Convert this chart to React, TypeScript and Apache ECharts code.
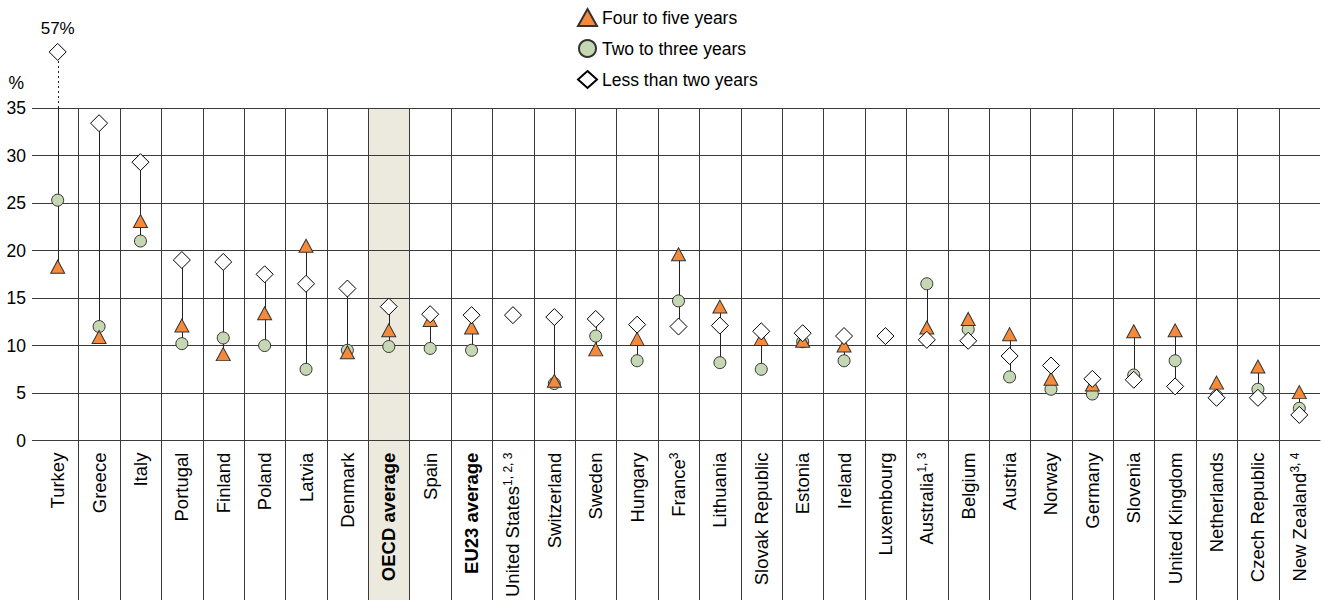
import React, { useEffect, useRef } from 'react';
import * as echarts from 'echarts';

const categories = [
  'Turkey', 'Greece', 'Italy', 'Portugal', 'Finland', 'Poland', 'Latvia', 'Denmark',
  'OECD average', 'Spain', 'EU23 average', 'United States', 'Switzerland', 'Sweden',
  'Hungary', 'France', 'Lithuania', 'Slovak Republic', 'Estonia', 'Ireland', 'Luxembourg',
  'Australia', 'Belgium', 'Austria', 'Norway', 'Germany', 'Slovenia', 'United Kingdom',
  'Netherlands', 'Czech Republic', 'New Zealand',
];

const fourToFiveYears = [
  18.3, 10.9, 23.1, 12.1, 9.1, 13.4, 20.5, 9.3,
  11.6, 12.7, 11.9, null, 6.3, 9.6,
  10.7, 19.6, 14.1, 10.7, 10.5, 10.0, null,
  11.9, 12.8, 11.2, 6.5, 5.9, 11.5, 11.6,
  6.1, 7.8, 5.1,
];

const twoToThreeYears = [
  25.3, 12.0, 21.0, 10.2, 10.8, 10.0, 7.5, 9.5,
  9.9, 9.7, 9.5, null, 6.0, 11.0,
  8.4, 14.7, 8.2, 7.5, 10.4, 8.4, null,
  16.5, 11.7, 6.7, 5.4, 4.9, 6.9, 8.4,
  4.7, 5.4, 3.4,
];

const lessThanTwoYears = [
  57, 33.4, 29.3, 19.0, 18.8, 17.5, 16.5, 16.0,
  14.1, 13.3, 13.2, 13.2, 13.0, 12.8,
  12.2, 12.0, 12.1, 11.5, 11.3, 11.0, 11.0,
  10.6, 10.5, 8.9, 7.9, 6.5, 6.4, 5.7,
  4.5, 4.5, 2.7,
];

const labelNotes: Record<string, string> = {
  'United States': '1, 2, 3',
  'France': '3',
  'Australia': '1, 3',
  'New Zealand': '3, 4',
};
const boldCategories = ['OECD average', 'EU23 average'];
const highlightCategory = 'OECD average';

const Y_MIN = 0;
const Y_MAX = 35;
const Y_INTERVAL = 5;
const OFFSCALE_DISPLAY = 40.9;

const FONT = "'Liberation Sans', Arial, Helvetica, sans-serif";
const ORANGE = '#F58A3A';
const GREEN = '#C5D7B3';
const BAND = '#ECEADF';
const LINE = '#3a3a3a';

export default function App() {
  const ref = useRef<HTMLDivElement>(null);

  useEffect(() => {
    document.body.style.margin = '0';
    if (!ref.current) return;
    const chart = echarts.init(ref.current, null, { renderer: 'svg' });

    const highlightIndex = categories.indexOf(highlightCategory);
    const dividerData = categories.slice(1).map((_, i) => [i + 1, 0]);
    const rangeData: number[][] = [];
    categories.forEach((_, i) => {
      const vals = [fourToFiveYears[i], twoToThreeYears[i], lessThanTwoYears[i]].filter(
        (v) => v !== null && v !== undefined
      ) as number[];
      if (vals.length >= 2) rangeData.push([i, Math.min(...vals), Math.max(...vals)]);
    });

    const diamondData = lessThanTwoYears.map((v, i) => {
      if (v === null) return [i, null];
      if (v > Y_MAX) {
        return {
          value: [i, OFFSCALE_DISPLAY],
          label: {
            show: true,
            position: 'top',
            distance: 6,
            formatter: `${v}%`,
            fontSize: 17,
            color: '#000',
            fontFamily: FONT,
          },
        };
      }
      return [i, v];
    });

    const option: any = {
      animation: false,
      textStyle: { fontFamily: FONT, color: '#000' },
      grid: { left: 37, right: 4, top: 108, bottom: 157.5, containLabel: false },
      legend: {
        orient: 'vertical',
        left: 577,
        top: 8,
        padding: 0,
        itemGap: 12,
        itemWidth: 19,
        itemHeight: 17,
        textStyle: { fontSize: 17.5, color: '#000', fontFamily: FONT },
        selectedMode: false,
        data: [
          { name: 'Four to five years', icon: 'triangle' },
          { name: 'Two to three years', icon: 'circle' },
          { name: 'Less than two years', icon: 'diamond' },
        ],
      },
      xAxis: {
        type: 'category',
        data: categories,
        boundaryGap: true,
        axisLine: { show: true, lineStyle: { color: LINE, width: 1 } },
        axisTick: { show: false },
        splitLine: { show: false },
        axisLabel: {
          interval: 0,
          rotate: 90,
          margin: 12,
          fontSize: 18.5,
          lineHeight: 21,
          color: '#000',
          fontFamily: FONT,
          formatter: (name: string) => {
            if (boldCategories.includes(name)) return `{b|${name}}`;
            const note = labelNotes[name];
            if (note) return `${name}{s|${note}}`;
            return name;
          },
          rich: {
            b: { fontWeight: 'bold', fontSize: 18.5, fontFamily: FONT, color: '#000', lineHeight: 21 },
            s: { fontSize: 12, fontFamily: FONT, color: '#000', verticalAlign: 'top', lineHeight: 13 },
          },
        },
      },
      yAxis: {
        type: 'value',
        min: Y_MIN,
        max: Y_MAX,
        interval: Y_INTERVAL,
        name: '%',
        nameLocation: 'end',
        nameGap: 16,
        nameTextStyle: { fontSize: 17.5, color: '#000', align: 'right', padding: [0, 13, 0, 0], fontFamily: FONT },
        axisLine: { show: false },
        axisTick: { show: true, length: 5, inside: false, lineStyle: { color: LINE, width: 1 } },
        axisLabel: { fontSize: 17.5, color: '#000', margin: 11, fontFamily: FONT },
        splitLine: { show: true, lineStyle: { color: LINE, width: 1 } },
      },
      series: [
        {
          type: 'custom',
          name: 'band',
          z: -1,
          silent: true,
          clip: false,
          data: [[highlightIndex, 0]],
          renderItem: (params: any, api: any) => {
            const cs = params.coordSys;
            const x = api.coord([api.value(0), 0])[0];
            const w = api.size([1, 0])[0];
            return {
              type: 'rect',
              shape: { x: x - w / 2, y: cs.y, width: w, height: api.getHeight() - cs.y },
              style: { fill: BAND },
            };
          },
        },
        {
          type: 'custom',
          name: 'dividers',
          z: 1,
          silent: true,
          clip: false,
          data: dividerData,
          renderItem: (params: any, api: any) => {
            const cs = params.coordSys;
            const c = api.coord([api.value(0), 0])[0];
            const w = api.size([1, 0])[0];
            const x = Math.round(c - w / 2) + 0.5;
            return {
              type: 'line',
              shape: { x1: x, y1: cs.y, x2: x, y2: api.getHeight() },
              style: { stroke: LINE, lineWidth: 1 },
            };
          },
        },
        {
          type: 'custom',
          name: 'ranges',
          z: 2,
          silent: true,
          clip: false,
          data: rangeData,
          renderItem: (params: any, api: any) => {
            const i = api.value(0);
            const lo = api.value(1);
            const hi = api.value(2);
            const p1 = api.coord([i, lo]);
            const p2 = api.coord([i, Math.min(hi, Y_MAX)]);
            const x = Math.round(p1[0]) + 0.5;
            const children: any[] = [
              {
                type: 'line',
                shape: { x1: x, y1: p1[1], x2: x, y2: p2[1] },
                style: { stroke: '#222', lineWidth: 1 },
              },
            ];
            if (hi > Y_MAX) {
              const p3 = api.coord([i, OFFSCALE_DISPLAY]);
              children.push({
                type: 'line',
                shape: { x1: x, y1: p2[1], x2: x, y2: p3[1] },
                style: { stroke: '#222', lineWidth: 1, lineDash: [2, 3] },
              });
            }
            return { type: 'group', children };
          },
        },
        {
          type: 'scatter',
          name: 'Two to three years',
          z: 3,
          symbol: 'circle',
          symbolSize: 12,
          itemStyle: { color: GREEN, borderColor: '#333', borderWidth: 1, opacity: 1 },
          data: twoToThreeYears.map((v, i) => [i, v]),
        },
        {
          type: 'scatter',
          name: 'Four to five years',
          z: 4,
          symbol: 'triangle',
          symbolSize: [14, 13],
          itemStyle: { color: ORANGE, borderColor: '#333', borderWidth: 1, opacity: 1 },
          data: fourToFiveYears.map((v, i) => [i, v]),
        },
        {
          type: 'scatter',
          name: 'Less than two years',
          z: 5,
          clip: false,
          symbol: 'diamond',
          symbolSize: [17, 17],
          itemStyle: { color: '#ffffff', borderColor: '#000', borderWidth: 1, opacity: 1 },
          data: diamondData,
        },
      ],
    };

    chart.setOption(option);
    return () => chart.dispose();
  }, []);

  return <div ref={ref} style={{ width: 1324, height: 600 }} />;
}
